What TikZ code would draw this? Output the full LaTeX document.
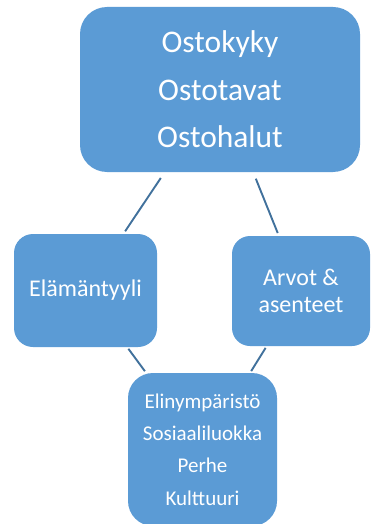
\documentclass[tikz,border=0pt]{standalone}
\usepackage{fontspec}
\setmainfont{Carlito}
\definecolor{boxblue}{HTML}{5B9BD5}
\definecolor{linkblue}{HTML}{41719C}
\begin{document}
\begin{tikzpicture}[x=1pt,y=-1pt,
  box/.style={fill=boxblue, text=white, inner sep=0pt, align=center},
  link/.style={draw=linkblue, line width=1.9pt}]
\useasboundingbox (0,0) rectangle (370,524);
\node[box, minimum width=280pt, minimum height=165pt, rounded corners=27pt,
  font=\fontsize{31.5}{47.5}\selectfont] (top) at (220,89.5) {Ostokyky\\Ostotavat\\Ostohalut};
\node[box, minimum width=143pt, minimum height=113pt, rounded corners=19pt,
  font=\fontsize{24}{26.5}\selectfont] (left) at (85.5,290.5) {Elämäntyyli};
\node[box, minimum width=138pt, minimum height=110pt, rounded corners=18pt,
  font=\fontsize{24}{26.5}\selectfont] (right) at (301,291) {Arvot \&\\asenteet};
\node[box, minimum width=149pt, minimum height=153pt, rounded corners=25pt,
  font=\fontsize{21}{32.3}\selectfont] (bottom) at (202.5,449.5) {Elinympäristö\\Sosiaaliluokka\\Perhe\\Kulttuuri};
\draw[link, shorten <=7pt, shorten >=3pt] (top) -- (left);
\draw[link, shorten <=7pt, shorten >=3pt] (top) -- (right);
\draw[link, shorten <=2pt, shorten >=2pt] (left) -- (bottom);
\draw[link, shorten <=2pt, shorten >=2pt] (right) -- (bottom);
\end{tikzpicture}
\end{document}
